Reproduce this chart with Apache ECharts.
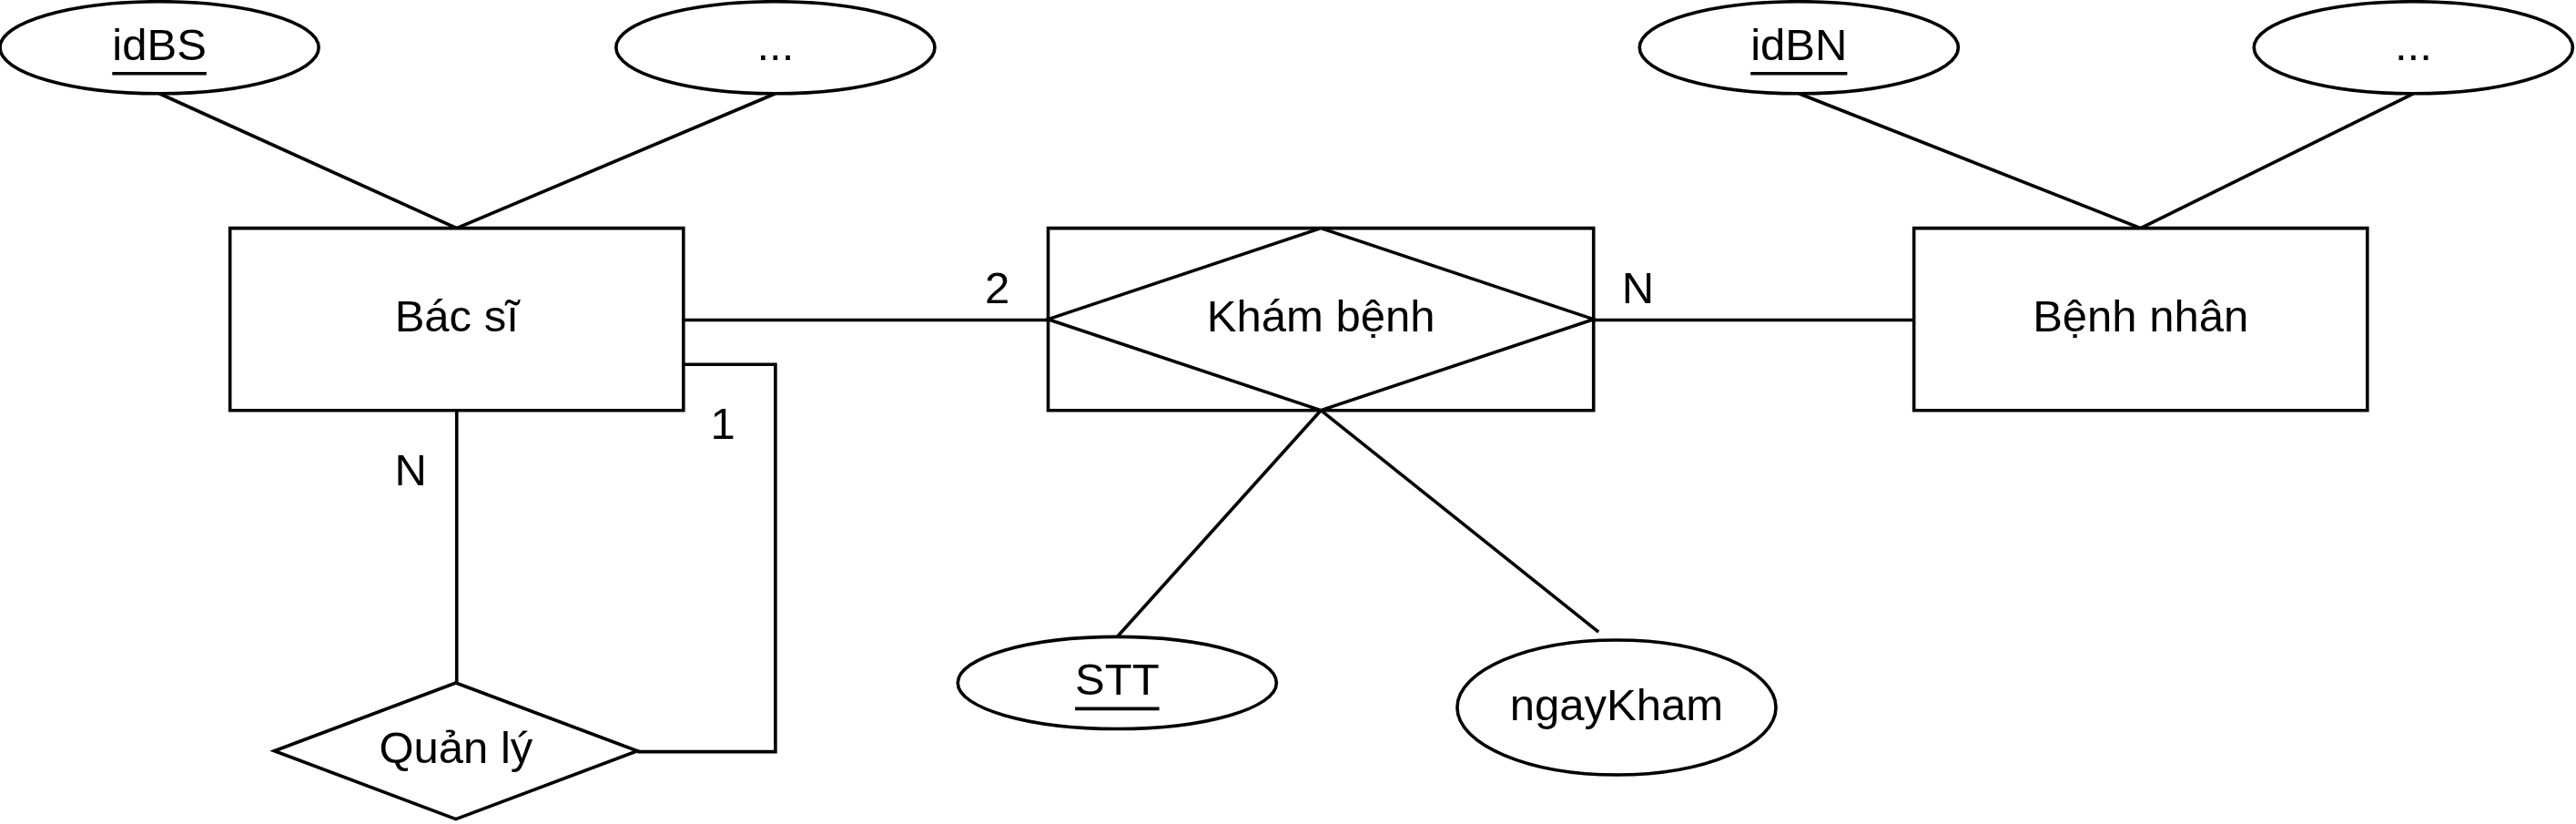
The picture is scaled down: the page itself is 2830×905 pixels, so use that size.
<!DOCTYPE html>
<html><head><meta charset="utf-8">
<script src="https://cdn.jsdelivr.net/npm/echarts@6/dist/echarts.min.js"></script>
<style>html,body{margin:0;padding:0;background:#fff}#c{width:2830px;height:905px}</style>
</head><body><div id="c"></div>
<script>
// diagram units: reference 1568 x 502
const entities = [["Bác sĩ",140,139,416,250],["Bệnh nhân",1165,139,1441,250]];
const assocEntities = [["Khám bệnh",638,139,970,250]];
const relationships = [["Quản lý",167,416,388,499]];
const attributes = [["idBS",97,29,97,28,1],["...",472,29,97,28,0],["idBN",1095,29,97,28,1],["...",1469,29,97,28,0],["STT",680,416,97,28,1],["ngayKham",984,431,97,41,0]];
const links = [
 [[97,57],[278,139]],[[472,57],[278,139]],[[1095,57],[1303,139]],[[1469,57],[1303,139]],
 [[416,195],[638,195]],[[970,195],[1165,195]],[[804,250],[680,388]],[[804,250],[973,385]],
 [[278,250],[278,416]],[[416,222],[472,222],[472,458],[388,458]]
];
const cardinalities = [["2",607,177],["N",997,177],["1",440,260],["N",250,288]];

const S = 2830/1568;
const FS = Math.round(27*S), LW = 2*S, FONT = '"Liberation Sans", Arial, sans-serif';
const ctx = document.createElement('canvas').getContext('2d');
ctx.font = FS + 'px ' + FONT;
const txt = (s, x, y) => ({type:'text', style:{text:s, x, y, fill:'#000', font: FS+'px '+FONT, align:'center', verticalAlign:'middle'}});
const ln = {stroke:'#000', lineWidth:LW, fill:null};

function series(data, render){ return {type:'custom', coordinateSystem:'cartesian2d', data, renderItem:render, silent:true, clip:false}; }

const chart = echarts.init(document.getElementById('c'), null, {renderer:'canvas'});
chart.setOption({
 animation:false,
 grid:{left:0,right:0,top:0,bottom:0},
 xAxis:{type:'value',min:0,max:1568,show:false},
 yAxis:{type:'value',min:0,max:502,inverse:true,show:false},
 series:[
  series(links.map((p,i)=>[i]), (p,api)=>{
    const pts = links[p.dataIndex].map(q=>api.coord(q));
    return {type:'polyline', shape:{points:pts}, style:ln};
  }),
  series(entities.map(e=>[e[1],e[2]]), (p,api)=>{
    const e = entities[p.dataIndex], a=api.coord([e[1],e[2]]), b=api.coord([e[3],e[4]]);
    return {type:'group', children:[
      {type:'rect', shape:{x:a[0],y:a[1],width:b[0]-a[0],height:b[1]-a[1]}, style:{stroke:'#000',lineWidth:LW,fill:'#fff'}},
      txt(e[0],(a[0]+b[0])/2,(a[1]+b[1])/2)]};
  }),
  series(assocEntities.map(e=>[e[1],e[2]]), (p,api)=>{
    const e = assocEntities[p.dataIndex], a=api.coord([e[1],e[2]]), b=api.coord([e[3],e[4]]);
    const cx=(a[0]+b[0])/2, cy=(a[1]+b[1])/2;
    return {type:'group', children:[
      {type:'rect', shape:{x:a[0],y:a[1],width:b[0]-a[0],height:b[1]-a[1]}, style:{stroke:'#000',lineWidth:LW,fill:'#fff'}},
      {type:'polygon', shape:{points:[[a[0],cy],[cx,a[1]],[b[0],cy],[cx,b[1]]]}, style:{stroke:'#000',lineWidth:LW,fill:'#fff'}},
      txt(e[0],cx,cy)]};
  }),
  series(relationships.map(e=>[e[1],e[2]]), (p,api)=>{
    const e = relationships[p.dataIndex], a=api.coord([e[1],e[2]]), b=api.coord([e[3],e[4]]);
    const cx=(a[0]+b[0])/2, cy=(a[1]+b[1])/2;
    return {type:'group', children:[
      {type:'polygon', shape:{points:[[a[0],cy],[cx,a[1]],[b[0],cy],[cx,b[1]]]}, style:{stroke:'#000',lineWidth:LW,fill:'#fff'}},
      txt(e[0],cx,cy)]};
  }),
  series(attributes.map(e=>[e[1],e[2]]), (p,api)=>{
    const e = attributes[p.dataIndex], c=api.coord([e[1],e[2]]);
    const rx=e[3]*S, ry=e[4]*S;
    const ch=[{type:'ellipse', shape:{cx:c[0],cy:c[1],rx,ry}, style:{stroke:'#000',lineWidth:LW,fill:'#fff'}}, txt(e[0],c[0],c[1])];
    if(e[5]){ const w=ctx.measureText(e[0]).width; const uy=c[1]+FS*0.58;
      ch.push({type:'line', shape:{x1:c[0]-w/2,y1:uy,x2:c[0]+w/2,y2:uy}, style:{stroke:'#000',lineWidth:LW}}); }
    return {type:'group', children:ch};
  }),
  series(cardinalities.map(e=>[e[1],e[2]]), (p,api)=>{
    const e=cardinalities[p.dataIndex], c=api.coord([e[1],e[2]]);
    return txt(e[0],c[0],c[1]);
  })
 ]
});
</script></body></html>
